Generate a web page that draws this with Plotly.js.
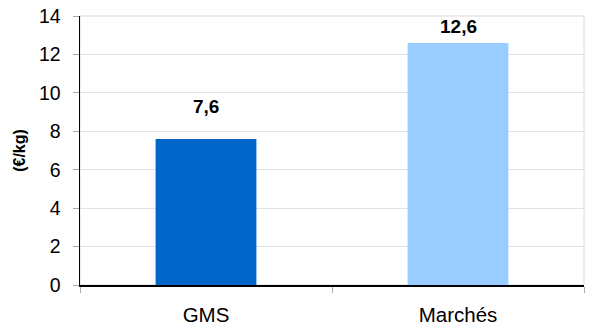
<!DOCTYPE html>
<html><head><meta charset="utf-8">
<script src="https://cdn.plot.ly/plotly-3.0.1.min.js"></script>
<style>html,body{margin:0;padding:0;background:#fff}#c{width:590px;height:327px}</style>
</head><body><div id="c"></div>
<script>
const categories = ['GMS', 'Marchés'];
const values = [7.6, 12.6];
const barColors = ['#0066CC', '#99CCFF'];
const yTicks = [0, 2, 4, 6, 8, 10, 12, 14];
const yTitle = '(€/kg)';

const labelShift = [32, 16];
const fmt = v => v.toFixed(1).replace('.', ',');

const trace = {
  type: 'bar', x: categories, y: values,
  marker: {color: barColors, line: {width: 0}},
  hoverinfo: 'none'
};

const annotations = categories.map((c, i) => ({
  x: c, y: values[i], xref: 'x', yref: 'y',
  text: '<b>' + fmt(values[i]) + '</b>', showarrow: false,
  yshift: labelShift[i], font: {family: 'Liberation Sans, Arial, sans-serif', size: 19, color: '#000'}
}));

const layout = {
  width: 590, height: 327,
  margin: {l: 80, r: 6, t: 16, b: 42},
  paper_bgcolor: '#fff', plot_bgcolor: '#fff',
  font: {family: 'Liberation Sans, Arial, sans-serif', size: 19, color: '#000'},
  bargap: 0.6,
  showlegend: false,
  xaxis: {
    type: 'category', showline: true, linecolor: '#000', linewidth: 1.5,
    ticks: 'outside', tickson: 'boundaries', ticklen: 6, tickcolor: '#aaa',
    showgrid: false, zeroline: false, tickfont: {size: 20.5},
    ticklabelstandoff: 11
  },
  yaxis: {
    range: [0, 14], tickvals: yTicks, ticktext: yTicks.map(String),
    showline: true, linecolor: '#000', linewidth: 1.5,
    ticks: 'outside', ticklen: 6, tickcolor: '#aaa',
    showgrid: true, gridcolor: '#e3e3e3', gridwidth: 1, zeroline: false,
    tickfont: {size: 19.5}, ticklabelstandoff: 8,
    title: {text: '<b>' + yTitle + '</b>', font: {size: 16}, standoff: 9}
  },
  shapes: [{type: 'rect', xref: 'paper', yref: 'paper', x0: 0, x1: 1, y0: 0, y1: 1,
    line: {color: '#d9d9d9', width: 1}, layer: 'below'}],
  annotations: annotations
};

Plotly.newPlot('c', [trace], layout, {displayModeBar: false, staticPlot: true});
</script></body></html>
